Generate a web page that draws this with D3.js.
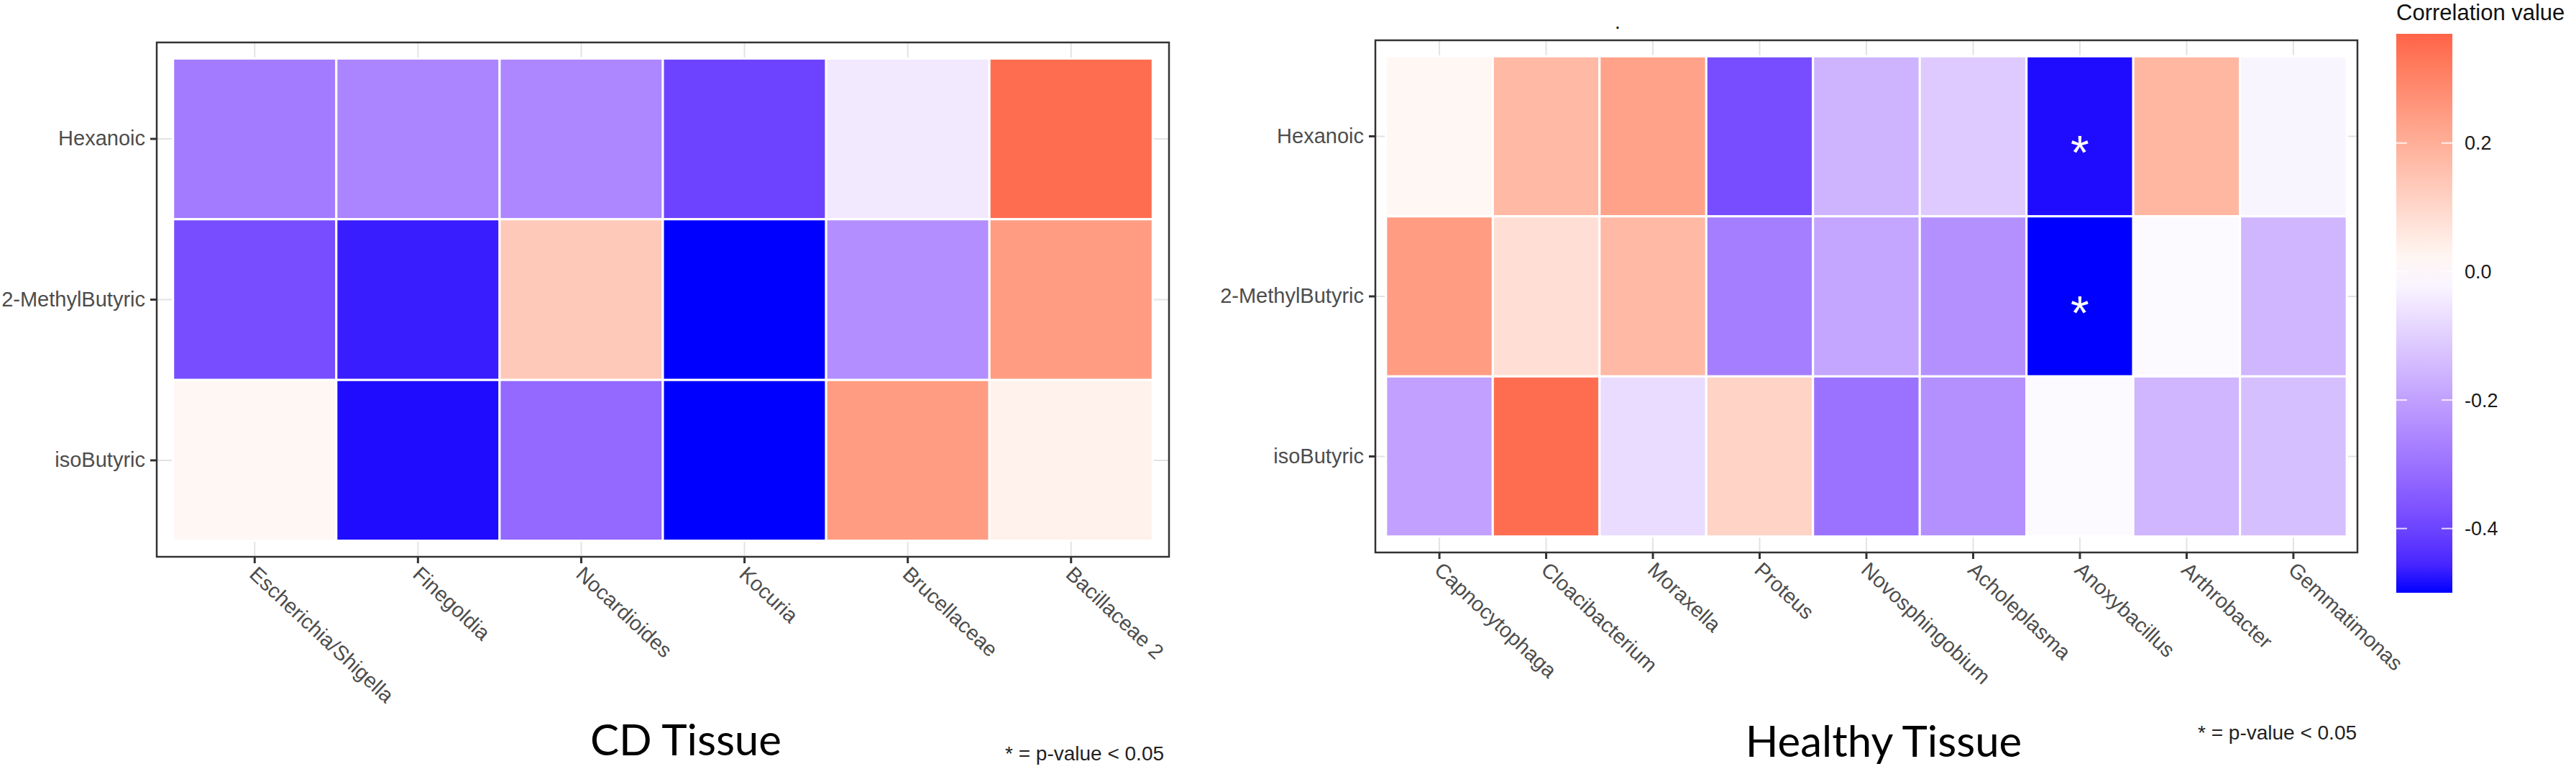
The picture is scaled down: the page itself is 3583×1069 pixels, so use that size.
<!DOCTYPE html>
<html>
<head>
<meta charset="utf-8">
<script src="https://cdn.jsdelivr.net/npm/d3@7"></script>
<style>
  body { margin: 0; background: #fff; }
  text { font-family: "Liberation Sans", Arial, sans-serif; }
</style>
</head>
<body>
<div class="chart"></div>
<script>
const width = 3583;
const height = 1069;

// rows are shared by both panels
const acids = ['Hexanoic', '2-MethylButyric', 'isoButyric'];

// CD tissue
const cdTaxa = ['Escherichia/Shigella', 'Finegoldia', 'Nocardioides', 'Kocuria', 'Brucellaceae', 'Bacillaceae 2'];
const cdHexanoic = [-0.28, -0.26, -0.255, -0.40, -0.045, 0.35];
const cdMethylButyric = [-0.38, -0.47, 0.135, -0.50, -0.24, 0.245];
const cdIsoButyric = [0.02, -0.49, -0.32, -0.50, 0.245, 0.035];

// Healthy tissue
const healthyTaxa = ['Capnocytophaga', 'Cloacibacterium', 'Moraxella', 'Proteus', 'Novosphingobium', 'Acholeplasma', 'Anoxybacillus', 'Arthrobacter', 'Gemmatimonas'];
const healthyHexanoic = [0.02, 0.175, 0.23, -0.38, -0.16, -0.11, -0.49, 0.18, -0.02];
const healthyMethylButyric = [0.245, 0.08, 0.175, -0.275, -0.19, -0.235, -0.50, -0.01, -0.155];
const healthyIsoButyric = [-0.20, 0.35, -0.073, 0.11, -0.30, -0.235, -0.01, -0.155, -0.135];
const healthySignificant = [['Hexanoic', 'Anoxybacillus'], ['2-MethylButyric', 'Anoxybacillus']];

// colour bar
const colorLimits = [-0.5, 0, 0.37];
const legendTicks = [0.2, 0.0, -0.2, -0.4];

const color = d3.scaleLinear()
    .domain(colorLimits)
    .range(['#0000ff', '#ffffff', '#ff6347'])
    .interpolate(d3.interpolateLab);

const svg = d3.select('.chart').append('svg')
    .attr('width', width)
    .attr('height', height)
    .attr('viewBox', `0 0 ${width} ${height}`);

function toCells(taxa, rows) {
    const cells = [];
    acids.forEach((a, i) => {
        taxa.forEach((t, j) => cells.push({ acid: a, taxon: t, value: rows[i][j] }));
    });
    return cells;
}

function heatmap(box, taxa, rows, sig) {
    const g = svg.append('g');
    const x = d3.scaleBand().domain(taxa).range([box.x0, box.x1]).paddingInner(0).paddingOuter(0.1);
    const y = d3.scaleBand().domain(acids).range([box.y0, box.y1]).paddingInner(0).paddingOuter(0.1);

    // panel grid (only shows in the margins round the tiles)
    g.append('g').selectAll('line').data(taxa).join('line')
        .attr('x1', d => x(d) + x.bandwidth() / 2).attr('x2', d => x(d) + x.bandwidth() / 2)
        .attr('y1', box.y0).attr('y2', box.y1)
        .attr('stroke', '#e3e3e3').attr('stroke-width', 2);
    g.append('g').selectAll('line').data(acids).join('line')
        .attr('y1', d => y(d) + y.bandwidth() / 2).attr('y2', d => y(d) + y.bandwidth() / 2)
        .attr('x1', box.x0).attr('x2', box.x1)
        .attr('stroke', '#e3e3e3').attr('stroke-width', 2);

    /* tiles */
    g.append('g').selectAll('rect').data(toCells(taxa, rows)).join('rect')
        .attr('x', d => x(d.taxon))
        .attr('y', d => y(d.acid))
        .attr('width', x.bandwidth())
        .attr('height', y.bandwidth())
        .attr('fill', d => color(d.value))
        .attr('stroke', '#fff')
        .attr('stroke-width', 3);

    // significance stars
    const fs = 66;
    g.append('g').selectAll('text').data(sig).join('text')
        .attr('x', d => x(d[1]) + x.bandwidth() / 2)
        .attr('y', d => y(d[0]) + y.bandwidth() / 2 + 8 + 0.57 * fs)
        .attr('text-anchor', 'middle')
        .attr('font-size', fs)
        .attr('fill', '#fff')
        .text('*');

    g.append('rect')
        .attr('x', box.x0).attr('y', box.y0)
        .attr('width', box.x1 - box.x0).attr('height', box.y1 - box.y0)
        .attr('fill', 'none').attr('stroke', '#333').attr('stroke-width', 2.5);

    /* axes */
    const yAxis = g.append('g')
        .attr('transform', `translate(${box.x0}, 0)`)
        .call(d3.axisLeft(y).tickSize(9).tickPadding(7).tickSizeOuter(0));
    const xAxis = g.append('g')
        .attr('transform', `translate(0, ${box.y1})`)
        .call(d3.axisBottom(x).tickSize(9).tickSizeOuter(0));
    [xAxis, yAxis].forEach(a => {
        a.select('.domain').remove();
        a.selectAll('line').attr('stroke', '#333').attr('stroke-width', 3);
        a.selectAll('text').attr('font-size', 29).attr('fill', '#4d4d4d')
            .attr('font-family', '"Liberation Sans", Arial, sans-serif');
    });
    xAxis.selectAll('text')
        .attr('x', 0).attr('y', 0).attr('dy', '0.35em')
        .attr('text-anchor', 'start')
        .attr('transform', 'translate(-2, 19) rotate(43)');
}

heatmap({ x0: 218, x1: 1626, y0: 59, y1: 774 }, cdTaxa,
    [cdHexanoic, cdMethylButyric, cdIsoButyric], []);
heatmap({ x0: 1913, x1: 3279, y0: 56, y1: 768 }, healthyTaxa,
    [healthyHexanoic, healthyMethylButyric, healthyIsoButyric], healthySignificant);

// stray title dot above the healthy panel
svg.append('text').attr('x', 2246).attr('y', 40).attr('font-size', 28).text('.');

/*      colour bar legend      */
const legY = d3.scaleLinear().domain([colorLimits[0], colorLimits[2]]).range([824, 47]);
const grad = svg.append('defs').append('linearGradient')
    .attr('id', 'corrGrad').attr('x1', 0).attr('x2', 0).attr('y1', 1).attr('y2', 0);
d3.range(0, 1.0001, 0.05).forEach(t => {
    const v = colorLimits[0] + t * (colorLimits[2] - colorLimits[0]);
    grad.append('stop').attr('offset', t).attr('stop-color', color(v));
});
const legX0 = 3333, legX1 = 3411;
svg.append('rect')
    .attr('x', legX0).attr('y', legY.range()[1])
    .attr('width', legX1 - legX0).attr('height', legY.range()[0] - legY.range()[1])
    .attr('fill', 'url(#corrGrad)');
const legTicks = svg.append('g').selectAll('g').data(legendTicks).join('g');
legTicks.append('line')
    .attr('x1', legX0).attr('x2', legX0 + 15)
    .attr('y1', d => legY(d)).attr('y2', d => legY(d))
    .attr('stroke', '#fff').attr('stroke-opacity', 0.8).attr('stroke-width', 2);
legTicks.append('line')
    .attr('x1', legX1 - 15).attr('x2', legX1)
    .attr('y1', d => legY(d)).attr('y2', d => legY(d))
    .attr('stroke', '#fff').attr('stroke-opacity', 0.8).attr('stroke-width', 2);
legTicks.append('text')
    .attr('x', 3428).attr('y', d => legY(d)).attr('dy', '0.35em')
    .attr('font-size', 27).attr('fill', '#1a1a1a')
    .text(d => d.toFixed(1));
svg.append('text')
    .attr('x', legX0).attr('y', 28)
    .attr('font-size', 31).attr('fill', '#111')
    .text('Correlation value');

/*      panel titles and notes      */
svg.append('text')
    .attr('x', 954).attr('y', 1050)
    .attr('text-anchor', 'middle')
    .attr('font-size', 60)
    .style('font-family', 'Lato, "Open Sans", sans-serif')
    .text('CD Tissue');
svg.append('text')
    .attr('x', 2620).attr('y', 1052)
    .attr('text-anchor', 'middle')
    .attr('font-size', 60)
    .style('font-family', 'Lato, "Open Sans", sans-serif')
    .text('Healthy Tissue');
svg.append('text')
    .attr('x', 1398).attr('y', 1057)
    .attr('font-size', 28).attr('fill', '#222')
    .text('* = p-value < 0.05');
svg.append('text')
    .attr('x', 3057).attr('y', 1028)
    .attr('font-size', 28).attr('fill', '#222')
    .text('* = p-value < 0.05');
</script>
</body>
</html>
